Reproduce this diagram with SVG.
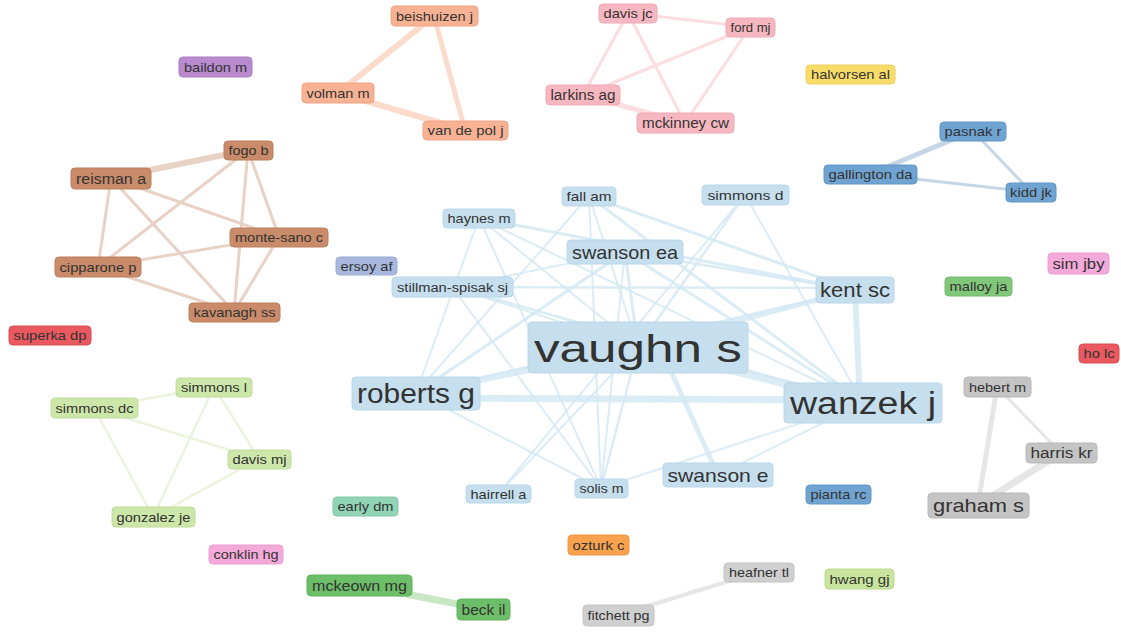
<svg xmlns="http://www.w3.org/2000/svg" width="1121" height="634" viewBox="0 0 1121 634">
<style>
text{font-family:"Liberation Sans",Arial,sans-serif;text-anchor:middle;fill:#333}
rect{rx:4;ry:4;stroke-width:1}
.c rect{fill:#c5dfef;stroke:#b8d6e9}
.br rect{fill:#c98b69;stroke:#bd7f5d}
.sa rect{fill:#f7b294;stroke:#f0a484}
.pk rect{fill:#f7b7c1;stroke:#efaab5}
.pu rect{fill:#b98bce;stroke:#ad7ec3}
.ye rect{fill:#f8dc6a;stroke:#eed05c}
.bl rect{fill:#6fa3d2;stroke:#6296c6}
.mg rect{fill:#f3a9d9;stroke:#eb9ccf}
.gr rect{fill:#80c77a;stroke:#74bb6e}
.rd rect{fill:#e9595f;stroke:#dc4c52}
.lv rect{fill:#a8b7de;stroke:#9aaad3}
.lg rect{fill:#cde6a9;stroke:#c1db9c}
.tl rect{fill:#91d4b6;stroke:#84c8a9}
.dg rect{fill:#6dbe69;stroke:#61b25d}
.or rect{fill:#f8a24d;stroke:#ee9640}
.gy rect{fill:#c4c4c4;stroke:#b8b8b8}
.gl rect{fill:#cfcfcf;stroke:#c3c3c3}
.hg rect{fill:#c9e49d;stroke:#bdd891}
#edges line{stroke-linecap:round;fill:none}
.ec{stroke:#d3e7f2;stroke-opacity:0.8}
.eb{stroke:#e8d2c6}
.es{stroke:#fcdbcd}
.ep{stroke:#fbdde2}
.eu{stroke:#c6d6e6}
.eg{stroke:#ebf4de}
.ed{stroke:#c9e6c5}
.ey{stroke:#e6e6e6}
</style>
<rect x="0" y="0" width="1121" height="634" fill="#ffffff" rx="0" ry="0" stroke="none"/>
<g id="edges">
<line class="ec" x1="638" y1="347" x2="416" y2="393" stroke-width="7"/>
<line class="ec" x1="638" y1="347" x2="863" y2="403" stroke-width="8"/>
<line class="ec" x1="416" y1="398" x2="863" y2="400" stroke-width="7"/>
<line class="ec" x1="855" y1="290" x2="860" y2="403" stroke-width="6"/>
<line class="ec" x1="638" y1="347" x2="855" y2="290" stroke-width="5"/>
<line class="ec" x1="660" y1="347" x2="718" y2="475" stroke-width="5"/>
<line class="ec" x1="638" y1="347" x2="625" y2="252" stroke-width="3"/>
<line class="ec" x1="625" y1="252" x2="863" y2="403" stroke-width="3"/>
<line class="ec" x1="625" y1="252" x2="855" y2="290" stroke-width="3"/>
<line class="ec" x1="625" y1="252" x2="416" y2="393" stroke-width="3"/>
<line class="ec" x1="589" y1="196" x2="863" y2="403" stroke-width="3"/>
<line class="ec" x1="479" y1="218" x2="855" y2="290" stroke-width="3"/>
<line class="ec" x1="589" y1="196" x2="855" y2="290" stroke-width="3"/>
<line class="ec" x1="452" y1="287" x2="855" y2="288" stroke-width="2.5"/>
<line class="ec" x1="452" y1="287" x2="863" y2="403" stroke-width="3"/>
<line class="ec" x1="416" y1="393" x2="855" y2="290" stroke-width="2.5"/>
<line class="ec" x1="638" y1="347" x2="589" y2="196" stroke-width="2"/>
<line class="ec" x1="638" y1="347" x2="745" y2="195" stroke-width="2.5"/>
<line class="ec" x1="638" y1="347" x2="479" y2="218" stroke-width="2"/>
<line class="ec" x1="638" y1="347" x2="452" y2="287" stroke-width="2"/>
<line class="ec" x1="638" y1="347" x2="498" y2="494" stroke-width="2"/>
<line class="ec" x1="638" y1="347" x2="601" y2="488" stroke-width="2.5"/>
<line class="ec" x1="479" y1="218" x2="416" y2="393" stroke-width="2"/>
<line class="ec" x1="479" y1="218" x2="601" y2="488" stroke-width="2"/>
<line class="ec" x1="479" y1="218" x2="863" y2="403" stroke-width="2"/>
<line class="ec" x1="589" y1="196" x2="416" y2="393" stroke-width="2"/>
<line class="ec" x1="745" y1="195" x2="498" y2="494" stroke-width="2"/>
<line class="ec" x1="745" y1="195" x2="863" y2="403" stroke-width="2"/>
<line class="ec" x1="625" y1="252" x2="601" y2="488" stroke-width="2"/>
<line class="ec" x1="452" y1="287" x2="625" y2="252" stroke-width="2"/>
<line class="ec" x1="416" y1="393" x2="601" y2="488" stroke-width="2"/>
<line class="ec" x1="718" y1="475" x2="863" y2="403" stroke-width="2"/>
<line class="ec" x1="601" y1="488" x2="863" y2="403" stroke-width="2"/>
<line class="ec" x1="589" y1="196" x2="601" y2="488" stroke-width="2"/>
<line class="ec" x1="452" y1="287" x2="601" y2="488" stroke-width="2"/>
<line class="eb" x1="111" y1="178" x2="248" y2="150" stroke-width="6"/>
<line class="eb" x1="111" y1="178" x2="98" y2="267" stroke-width="3"/>
<line class="eb" x1="111" y1="178" x2="279" y2="237" stroke-width="3"/>
<line class="eb" x1="111" y1="178" x2="234" y2="312" stroke-width="3"/>
<line class="eb" x1="248" y1="150" x2="98" y2="267" stroke-width="3"/>
<line class="eb" x1="248" y1="150" x2="279" y2="237" stroke-width="3"/>
<line class="eb" x1="248" y1="150" x2="234" y2="312" stroke-width="3"/>
<line class="eb" x1="279" y1="237" x2="98" y2="267" stroke-width="3"/>
<line class="eb" x1="279" y1="237" x2="234" y2="312" stroke-width="3"/>
<line class="eb" x1="98" y1="267" x2="234" y2="312" stroke-width="3"/>
<line class="es" x1="434" y1="16" x2="338" y2="93" stroke-width="6"/>
<line class="es" x1="434" y1="16" x2="465" y2="130" stroke-width="5"/>
<line class="es" x1="338" y1="93" x2="465" y2="130" stroke-width="6"/>
<line class="ep" x1="628" y1="13" x2="750" y2="27" stroke-width="3"/>
<line class="ep" x1="628" y1="13" x2="583" y2="95" stroke-width="3"/>
<line class="ep" x1="628" y1="13" x2="685" y2="123" stroke-width="3"/>
<line class="ep" x1="750" y1="27" x2="583" y2="95" stroke-width="3"/>
<line class="ep" x1="750" y1="27" x2="685" y2="123" stroke-width="3"/>
<line class="ep" x1="583" y1="95" x2="685" y2="123" stroke-width="5"/>
<line class="eu" x1="973" y1="131" x2="870" y2="174" stroke-width="5"/>
<line class="eu" x1="973" y1="131" x2="1031" y2="192" stroke-width="3"/>
<line class="eu" x1="870" y1="174" x2="1031" y2="192" stroke-width="3"/>
<line class="eg" x1="214" y1="387" x2="94" y2="408" stroke-width="2.5"/>
<line class="eg" x1="214" y1="387" x2="259" y2="459" stroke-width="2.5"/>
<line class="eg" x1="214" y1="387" x2="153" y2="517" stroke-width="2.5"/>
<line class="eg" x1="94" y1="408" x2="259" y2="459" stroke-width="2.5"/>
<line class="eg" x1="94" y1="408" x2="153" y2="517" stroke-width="2.5"/>
<line class="eg" x1="259" y1="459" x2="153" y2="517" stroke-width="2.5"/>
<line class="ed" x1="359" y1="585" x2="483" y2="609" stroke-width="7"/>
<line class="ey" x1="618" y1="615" x2="759" y2="572" stroke-width="4"/>
<line class="ey" x1="997" y1="387" x2="978" y2="505" stroke-width="5"/>
<line class="ey" x1="997" y1="387" x2="1061" y2="453" stroke-width="3"/>
<line class="ey" x1="1061" y1="453" x2="978" y2="505" stroke-width="7"/>
</g>
<g id="nodes">
<g id="n-vaughn-s" class="c"><rect x="528" y="322" width="220" height="51"/><text x="638" y="361.5" font-size="39" textLength="208" lengthAdjust="spacingAndGlyphs">vaughn s</text></g>
<g id="n-roberts-g" class="c"><rect x="352" y="377" width="128" height="33"/><text x="416" y="403" font-size="27" textLength="118" lengthAdjust="spacingAndGlyphs">roberts g</text></g>
<g id="n-wanzek-j" class="c"><rect x="784" y="383" width="158" height="40"/><text x="863" y="414" font-size="31" textLength="146" lengthAdjust="spacingAndGlyphs">wanzek j</text></g>
<g id="n-kent-sc" class="c"><rect x="816" y="277" width="78" height="26"/><text x="855" y="297" font-size="20" textLength="70" lengthAdjust="spacingAndGlyphs">kent sc</text></g>
<g id="n-swanson-ea" class="c"><rect x="567" y="240" width="116" height="24"/><text x="625" y="258.5" font-size="18.5" textLength="106" lengthAdjust="spacingAndGlyphs">swanson ea</text></g>
<g id="n-swanson-e" class="c"><rect x="663" y="463" width="110" height="24"/><text x="718" y="481.5" font-size="18.5" textLength="101" lengthAdjust="spacingAndGlyphs">swanson e</text></g>
<g id="n-fall-am" class="c"><rect x="562" y="187" width="54" height="19"/><text x="589" y="201" font-size="13" textLength="45" lengthAdjust="spacingAndGlyphs">fall am</text></g>
<g id="n-simmons-d" class="c"><rect x="702" y="185" width="87" height="20"/><text x="745.5" y="199.5" font-size="13" textLength="76" lengthAdjust="spacingAndGlyphs">simmons d</text></g>
<g id="n-haynes-m" class="c"><rect x="443" y="209" width="72" height="19"/><text x="479" y="223" font-size="13" textLength="63" lengthAdjust="spacingAndGlyphs">haynes m</text></g>
<g id="n-stillman-spisak-sj" class="c"><rect x="392" y="277" width="121" height="20"/><text x="452.5" y="291.5" font-size="12.5" textLength="111" lengthAdjust="spacingAndGlyphs">stillman-spisak sj</text></g>
<g id="n-hairrell-a" class="c"><rect x="466" y="485" width="65" height="18"/><text x="498.5" y="498.5" font-size="13" textLength="56" lengthAdjust="spacingAndGlyphs">hairrell a</text></g>
<g id="n-solis-m" class="c"><rect x="575" y="479" width="53" height="19"/><text x="601.5" y="493" font-size="13" textLength="44" lengthAdjust="spacingAndGlyphs">solis m</text></g>
<g id="n-fogo-b" class="br"><rect x="224" y="141" width="49" height="19"/><text x="248.5" y="155" font-size="13" textLength="40" lengthAdjust="spacingAndGlyphs">fogo b</text></g>
<g id="n-reisman-a" class="br"><rect x="71" y="168" width="80" height="21"/><text x="111" y="183.5" font-size="14" textLength="70" lengthAdjust="spacingAndGlyphs">reisman a</text></g>
<g id="n-monte-sano-c" class="br"><rect x="230" y="228" width="98" height="19"/><text x="279" y="242" font-size="13" textLength="88" lengthAdjust="spacingAndGlyphs">monte-sano c</text></g>
<g id="n-cipparone-p" class="br"><rect x="55" y="257" width="86" height="20"/><text x="98" y="271.5" font-size="13" textLength="77" lengthAdjust="spacingAndGlyphs">cipparone p</text></g>
<g id="n-kavanagh-ss" class="br"><rect x="189" y="303" width="91" height="19"/><text x="234.5" y="317" font-size="13" textLength="82" lengthAdjust="spacingAndGlyphs">kavanagh ss</text></g>
<g id="n-beishuizen-j" class="sa"><rect x="391" y="6" width="87" height="20"/><text x="434.5" y="20.5" font-size="13" textLength="77" lengthAdjust="spacingAndGlyphs">beishuizen j</text></g>
<g id="n-volman-m" class="sa"><rect x="302" y="83" width="72" height="20"/><text x="338" y="97.5" font-size="13" textLength="63" lengthAdjust="spacingAndGlyphs">volman m</text></g>
<g id="n-van-de-pol-j" class="sa"><rect x="423" y="121" width="85" height="19"/><text x="465.5" y="135" font-size="13" textLength="76" lengthAdjust="spacingAndGlyphs">van de pol j</text></g>
<g id="n-davis-jc" class="pk"><rect x="599" y="4" width="58" height="19"/><text x="628" y="18" font-size="13" textLength="49" lengthAdjust="spacingAndGlyphs">davis jc</text></g>
<g id="n-ford-mj" class="pk"><rect x="726" y="18" width="49" height="19"/><text x="750.5" y="32" font-size="13" textLength="40" lengthAdjust="spacingAndGlyphs">ford mj</text></g>
<g id="n-larkins-ag" class="pk"><rect x="546" y="85" width="74" height="20"/><text x="583" y="100" font-size="14" textLength="65" lengthAdjust="spacingAndGlyphs">larkins ag</text></g>
<g id="n-mckinney-cw" class="pk"><rect x="637" y="113" width="97" height="20"/><text x="685.5" y="128" font-size="14" textLength="87" lengthAdjust="spacingAndGlyphs">mckinney cw</text></g>
<g id="n-baildon-m" class="pu"><rect x="179" y="57" width="73" height="20"/><text x="215.5" y="71.5" font-size="13" textLength="63" lengthAdjust="spacingAndGlyphs">baildon m</text></g>
<g id="n-halvorsen-al" class="ye"><rect x="806" y="65" width="89" height="19"/><text x="850.5" y="79" font-size="13" textLength="79" lengthAdjust="spacingAndGlyphs">halvorsen al</text></g>
<g id="n-pasnak-r" class="bl"><rect x="940" y="122" width="66" height="19"/><text x="973" y="136" font-size="13" textLength="57" lengthAdjust="spacingAndGlyphs">pasnak r</text></g>
<g id="n-gallington-da" class="bl"><rect x="824" y="165" width="93" height="19"/><text x="870.5" y="179" font-size="13" textLength="84" lengthAdjust="spacingAndGlyphs">gallington da</text></g>
<g id="n-kidd-jk" class="bl"><rect x="1006" y="183" width="50" height="19"/><text x="1031" y="197" font-size="13" textLength="42" lengthAdjust="spacingAndGlyphs">kidd jk</text></g>
<g id="n-sim-jby" class="mg"><rect x="1048" y="253" width="61" height="21"/><text x="1078.5" y="269" font-size="15" textLength="52" lengthAdjust="spacingAndGlyphs">sim jby</text></g>
<g id="n-malloy-ja" class="gr"><rect x="945" y="277" width="67" height="19"/><text x="978.5" y="291" font-size="13" textLength="58" lengthAdjust="spacingAndGlyphs">malloy ja</text></g>
<g id="n-ho-lc" class="rd"><rect x="1079" y="344" width="40" height="19"/><text x="1099" y="358" font-size="13" textLength="31" lengthAdjust="spacingAndGlyphs">ho lc</text></g>
<g id="n-ersoy-af" class="lv"><rect x="336" y="257" width="61" height="18"/><text x="366.5" y="270.5" font-size="13" textLength="52" lengthAdjust="spacingAndGlyphs">ersoy af</text></g>
<g id="n-superka-dp" class="rd"><rect x="9" y="326" width="82" height="19"/><text x="50" y="340" font-size="13" textLength="73" lengthAdjust="spacingAndGlyphs">superka dp</text></g>
<g id="n-simmons-l" class="lg"><rect x="176" y="378" width="76" height="19"/><text x="214" y="392" font-size="13" textLength="66" lengthAdjust="spacingAndGlyphs">simmons l</text></g>
<g id="n-simmons-dc" class="lg"><rect x="51" y="398" width="87" height="20"/><text x="94.5" y="412.5" font-size="13" textLength="78" lengthAdjust="spacingAndGlyphs">simmons dc</text></g>
<g id="n-davis-mj" class="lg"><rect x="228" y="450" width="63" height="19"/><text x="259.5" y="464" font-size="13" textLength="54" lengthAdjust="spacingAndGlyphs">davis mj</text></g>
<g id="n-gonzalez-je" class="lg"><rect x="112" y="507" width="83" height="20"/><text x="153.5" y="521.5" font-size="13" textLength="74" lengthAdjust="spacingAndGlyphs">gonzalez je</text></g>
<g id="n-conklin-hg" class="mg"><rect x="209" y="545" width="74" height="19"/><text x="246" y="559" font-size="13" textLength="65" lengthAdjust="spacingAndGlyphs">conklin hg</text></g>
<g id="n-early-dm" class="tl"><rect x="333" y="497" width="65" height="19"/><text x="365.5" y="511" font-size="13" textLength="56" lengthAdjust="spacingAndGlyphs">early dm</text></g>
<g id="n-pianta-rc" class="bl"><rect x="806" y="485" width="65" height="19"/><text x="838.5" y="499" font-size="13" textLength="56" lengthAdjust="spacingAndGlyphs">pianta rc</text></g>
<g id="n-ozturk-c" class="or"><rect x="568" y="535" width="61" height="20"/><text x="598.5" y="549.5" font-size="13" textLength="52" lengthAdjust="spacingAndGlyphs">ozturk c</text></g>
<g id="n-mckeown-mg" class="dg"><rect x="307" y="575" width="105" height="21"/><text x="359.5" y="590.5" font-size="14" textLength="95" lengthAdjust="spacingAndGlyphs">mckeown mg</text></g>
<g id="n-beck-il" class="dg"><rect x="457" y="599" width="53" height="21"/><text x="483.5" y="614.5" font-size="14" textLength="44" lengthAdjust="spacingAndGlyphs">beck il</text></g>
<g id="n-heafner-tl" class="gl"><rect x="724" y="563" width="70" height="19"/><text x="759" y="577" font-size="13" textLength="60" lengthAdjust="spacingAndGlyphs">heafner tl</text></g>
<g id="n-fitchett-pg" class="gl"><rect x="583" y="605" width="71" height="21"/><text x="618.5" y="620" font-size="13" textLength="62" lengthAdjust="spacingAndGlyphs">fitchett pg</text></g>
<g id="n-hwang-gj" class="hg"><rect x="825" y="569" width="69" height="20"/><text x="859.5" y="583.5" font-size="13" textLength="60" lengthAdjust="spacingAndGlyphs">hwang gj</text></g>
<g id="n-hebert-m" class="gy"><rect x="964" y="377" width="67" height="20"/><text x="997.5" y="391.5" font-size="13" textLength="57" lengthAdjust="spacingAndGlyphs">hebert m</text></g>
<g id="n-harris-kr" class="gy"><rect x="1026" y="443" width="71" height="20"/><text x="1061.5" y="458" font-size="14" textLength="62" lengthAdjust="spacingAndGlyphs">harris kr</text></g>
<g id="n-graham-s" class="gy"><rect x="928" y="493" width="101" height="25"/><text x="978.5" y="512" font-size="19" textLength="91" lengthAdjust="spacingAndGlyphs">graham s</text></g>
</g>
</svg>
